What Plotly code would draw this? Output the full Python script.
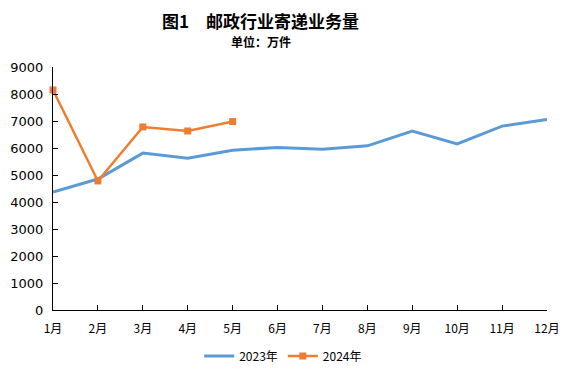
import plotly.graph_objects as go

months = ["1月", "2月", "3月", "4月", "5月", "6月", "7月", "8月", "9月", "10月", "11月", "12月"]
x_pos = list(range(1, 13))
vals_2023 = [4370, 4850, 5810, 5620, 5920, 6020, 5950, 6080, 6630, 6150, 6810, 7060]
vals_2024 = [8150, 4780, 6780, 6630, 6980]
y_ticks = [0, 1000, 2000, 3000, 4000, 5000, 6000, 7000, 8000, 9000]

cjk = "Noto Sans CJK SC"

fig = go.Figure()
fig.add_trace(go.Scatter(
    x=x_pos, y=vals_2023, name="2023年", mode="lines",
    line=dict(color="#5B9BD5", width=3), cliponaxis=False))
fig.add_trace(go.Scatter(
    x=x_pos[:len(vals_2024)], y=vals_2024, name="2024年", mode="lines+markers",
    line=dict(color="#ED7D31", width=2.5),
    marker=dict(symbol="square", size=7, color="#ED7D31"), cliponaxis=False))

# page body has an 8px margin, so the figure is sized/offset to compensate
W, H = 559, 370
L, T, R, B = 45, 59, 20, 68
plot_h = H - T - B


def py(screen_y):
    return (H - B + 8 - screen_y) / plot_h


fig.update_layout(
    width=W, height=H,
    margin=dict(l=L, r=R, t=T, b=B, autoexpand=False),
    plot_bgcolor="white", paper_bgcolor="white",
    showlegend=True,
    legend=dict(orientation="h", x=0.466, xanchor="center", y=py(356), yanchor="middle",
                font=dict(family=cjk, size=12, color="black"), itemwidth=30),
    xaxis=dict(range=[1, 12], tickvals=x_pos, ticktext=months, automargin=False,
               showgrid=False, zeroline=False, showline=True, linecolor="black", linewidth=1,
               ticks="inside", ticklen=5, tickcolor="black", ticklabelstandoff=8,
               tickfont=dict(family=cjk, size=12, color="black")),
    yaxis=dict(range=[0, 9000], tickvals=y_ticks, showgrid=False, zeroline=False, automargin=False,
               showline=True, linecolor="black", linewidth=1,
               ticks="inside", ticklen=5, tickcolor="black", ticklabelstandoff=6,
               tickfont=dict(family="DejaVu Sans", size=13, color="black")),
    annotations=[
        dict(text="<b>图1　邮政行业寄递业务量</b>", x=0.421, y=py(20), xref="paper", yref="paper",
             yanchor="middle", showarrow=False, font=dict(family=cjk, size=17, color="black")),
        dict(text="<b>单位：万件</b>", x=0.421, y=py(42), xref="paper", yref="paper",
             yanchor="middle", showarrow=False, font=dict(family=cjk, size=12, color="black")),
    ],
)

fig.write_html("out.html")
